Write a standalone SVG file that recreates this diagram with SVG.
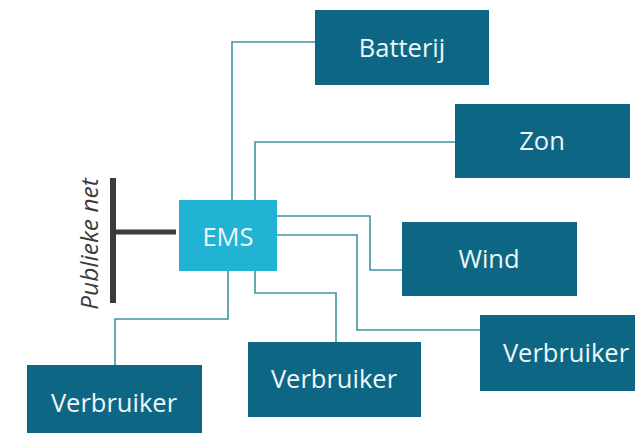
<svg xmlns="http://www.w3.org/2000/svg" width="636" height="433" viewBox="0 0 636 433">
<style>
.box{fill:#0d6784}
.lbl{fill:#eef7f9;font-family:"Open Sans","Liberation Sans",sans-serif;font-size:25.5px;text-anchor:middle;dominant-baseline:central}
.con{fill:none;stroke:#3f93a3;stroke-width:1.6}
</style>
<rect width="636" height="433" fill="#ffffff"/>
<g id="connectors">
<polyline class="con" points="315,42 232,42 232,200"/>
<polyline class="con" points="455,142 255,142 255,200"/>
<polyline class="con" points="277,216 370,216 370,270 402,270"/>
<polyline class="con" points="277,235 357,235 357,330 480,330"/>
<polyline class="con" points="255,271 255,293 336,293 336,342"/>
<polyline class="con" points="228,271 228,319 115,319 115,365"/>
</g>
<g id="publieke-net">
<line x1="113" y1="178" x2="113" y2="303" stroke="#3b3b3b" stroke-width="6"/>
<line x1="116" y1="232" x2="176" y2="232" stroke="#3b3b3b" stroke-width="5"/>
<text transform="translate(98,244) rotate(-90)" font-family="'Open Sans','Liberation Sans',sans-serif" font-style="italic" font-size="24.5" fill="#3b3b3b" text-anchor="middle">Publieke net</text>
</g>
<g id="ems">
<rect x="179" y="200" width="98" height="71" fill="#22b2d4"/>
<text class="lbl" x="228" y="236">EMS</text>
</g>
<g id="batterij">
<rect class="box" x="315" y="10" width="174" height="75"/>
<text class="lbl" x="402" y="47">Batterij</text>
</g>
<g id="zon">
<rect class="box" x="455" y="104" width="175" height="74"/>
<text class="lbl" x="542" y="140">Zon</text>
</g>
<g id="wind">
<rect class="box" x="402" y="222" width="175" height="74"/>
<text class="lbl" x="489" y="258">Wind</text>
</g>
<g id="verbruiker-right">
<rect class="box" x="480" y="315" width="155" height="76"/>
<text class="lbl" x="566" y="352">Verbruiker</text>
</g>
<g id="verbruiker-middle">
<rect class="box" x="248" y="342" width="173" height="75"/>
<text class="lbl" x="334" y="378">Verbruiker</text>
</g>
<g id="verbruiker-left">
<rect class="box" x="27" y="365" width="175" height="75"/>
<text class="lbl" x="114" y="402">Verbruiker</text>
</g>
</svg>
